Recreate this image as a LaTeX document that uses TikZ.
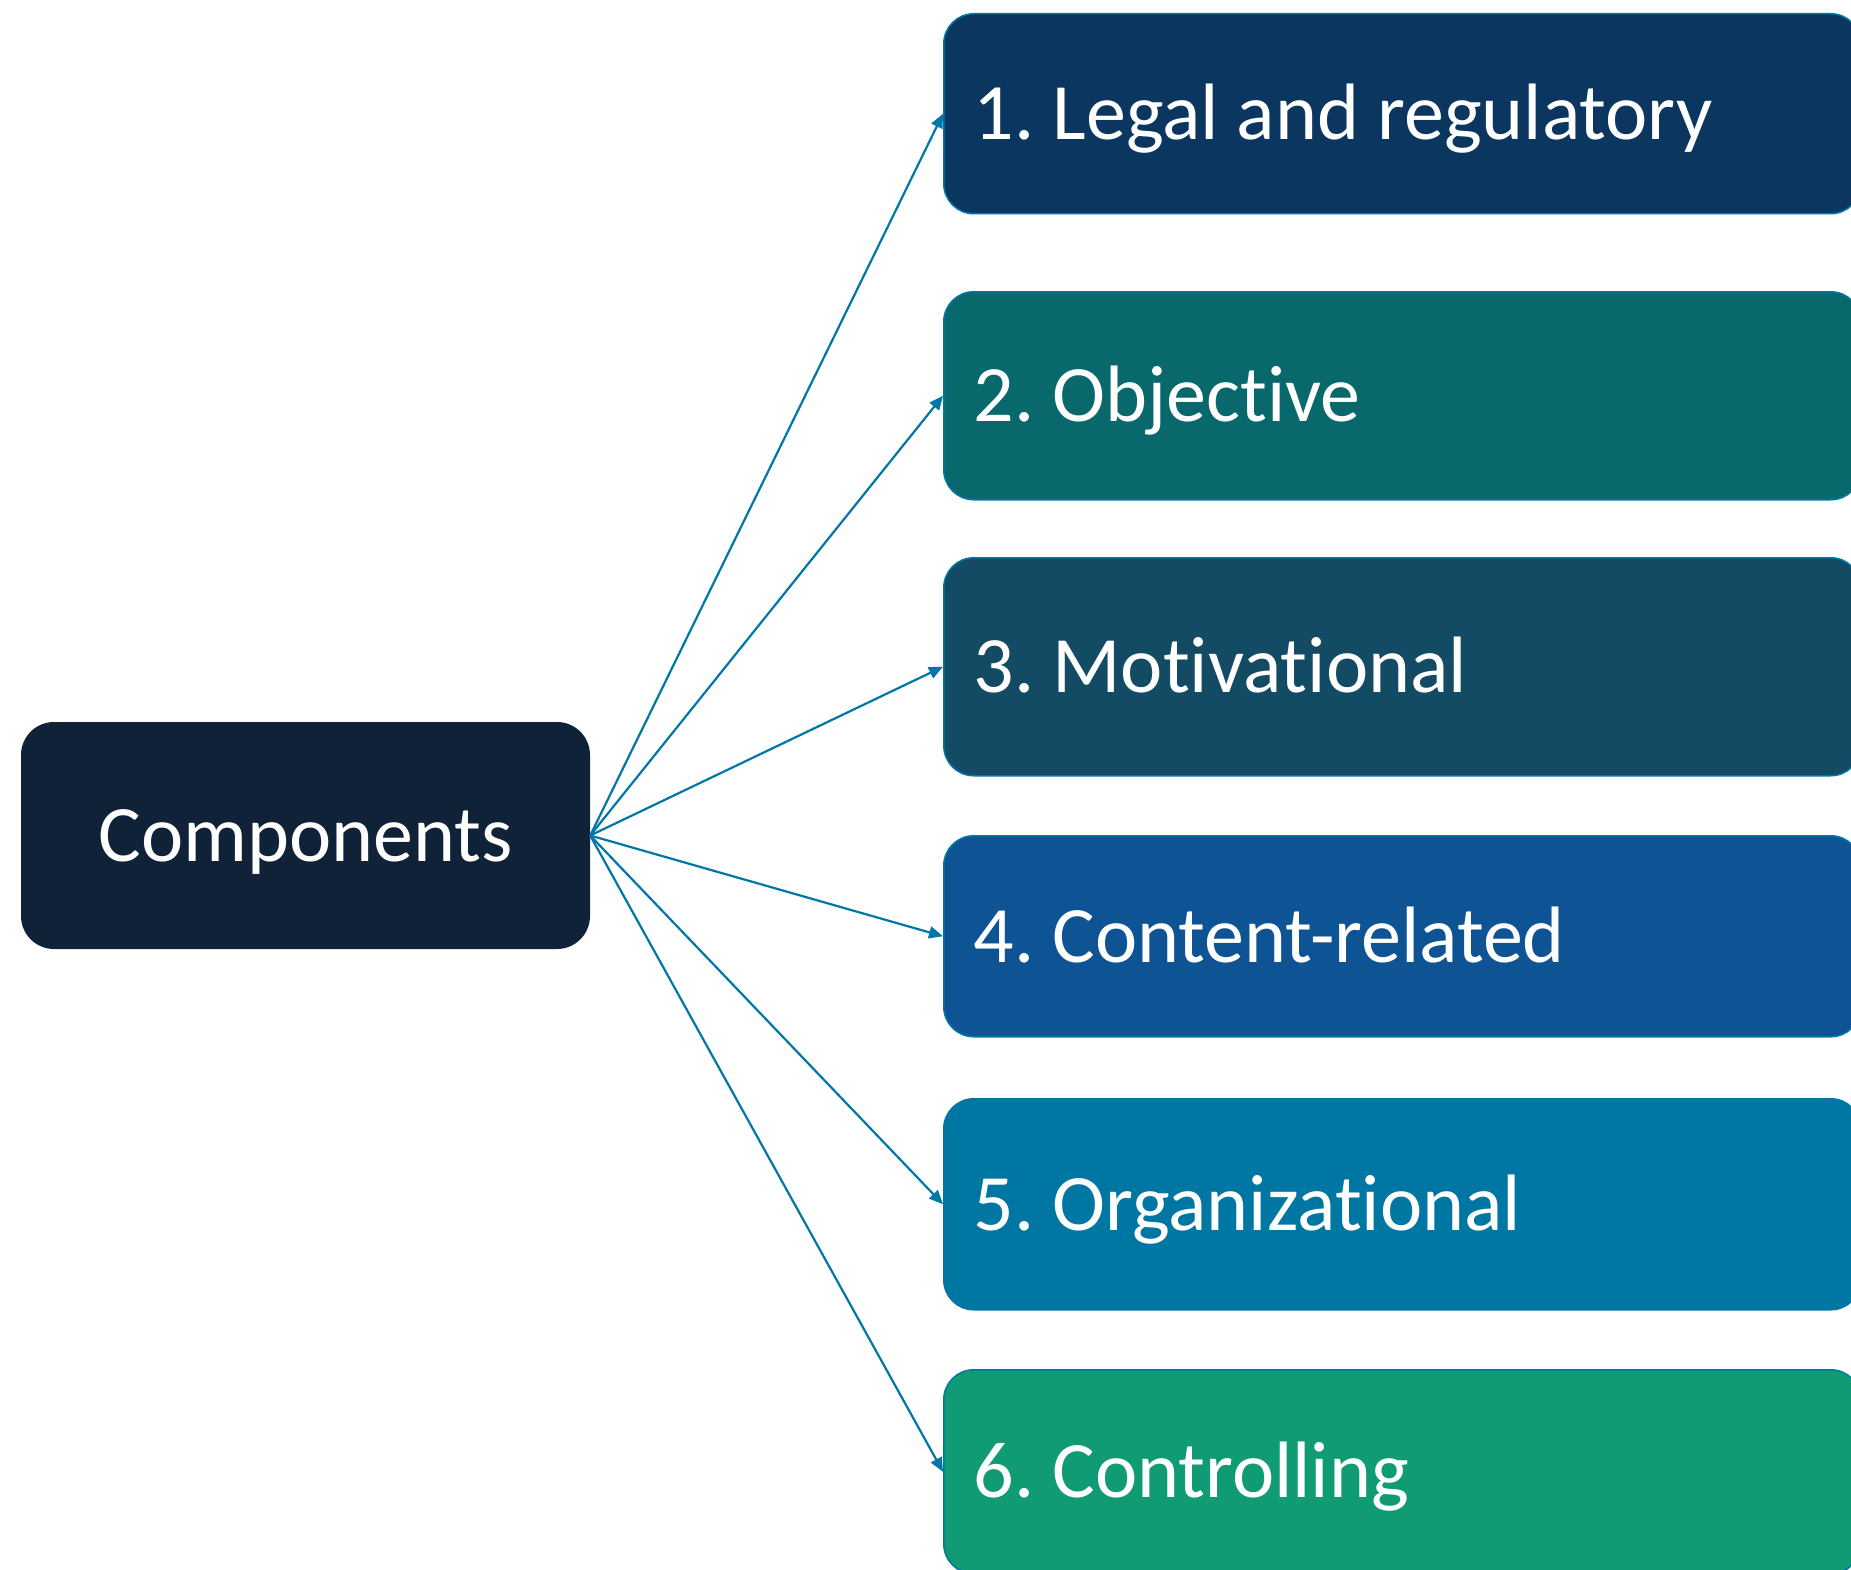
\documentclass[tikz,border=0pt]{standalone}
\usepackage{fontspec}
\setmainfont{Carlito}[Ligatures=NoCommon]
\usetikzlibrary{arrows.meta}
\definecolor{compcol}{HTML}{0F2238}
\definecolor{bcolA}{HTML}{0A3660}
\definecolor{bcolB}{HTML}{08686C}
\definecolor{bcolC}{HTML}{134A64}
\definecolor{bcolD}{HTML}{0E5394}
\definecolor{bcolE}{HTML}{0076A3}
\definecolor{bcolF}{HTML}{109B74}
\definecolor{linecol}{HTML}{0077A6}
\newcommand{\itemtext}[1]{\makebox[857pt][l]{#1}}
\tikzset{
  bigfont/.style={font=\fontsize{80}{96}\selectfont\frenchspacing, text=white},
  compbox/.style={bigfont, rectangle, rounded corners=33pt, fill=compcol,
    minimum width=569pt, minimum height=227pt, inner sep=0pt,
    text height=51.5pt, text depth=0pt},
  itembox/.style={bigfont, rectangle, rounded corners=30pt, draw=linecol, line width=1.5pt,
    anchor=north west, inner xsep=30pt, inner ysep=0pt,
    text height=51.5pt, text depth=0pt},
  conn/.style={draw=linecol, line width=2.2pt, -{Triangle[length=14pt,width=12pt]}, shorten >=0pt}
}
\begin{document}
\begin{tikzpicture}[x=1pt,y=-1pt]
\useasboundingbox (0,0) rectangle (1851,1570);
\clip (0,0) rectangle (1851,1570);
\fill[white] (0,0) rectangle (1851,1570);
\node[compbox] (comp) at (305.5,835.5) {Components};
\node[itembox, fill=bcolA, minimum height=200pt] (b1) at (943,13) {\itemtext{1. Legal and regulatory}};
\node[itembox, fill=bcolB, minimum height=208pt] (b2) at (943,291) {\itemtext{2. Objective}};
\node[itembox, fill=bcolC, minimum height=218pt] (b3) at (943,557) {\itemtext{3. Motivational}};
\node[itembox, fill=bcolD, minimum height=201pt] (b4) at (943,835) {\itemtext{4. Content-related}};
\node[itembox, fill=bcolE, minimum height=211pt] (b5) at (943,1098) {\itemtext{5. Organizational}};
\node[itembox, fill=bcolF, minimum height=204pt] (b6) at (943,1369) {\itemtext{6. Controlling}};
\foreach \b in {b1,b2,b3,b4,b5,b6}
  \draw[conn] (comp.east) -- (\b.west);
\end{tikzpicture}
\end{document}
